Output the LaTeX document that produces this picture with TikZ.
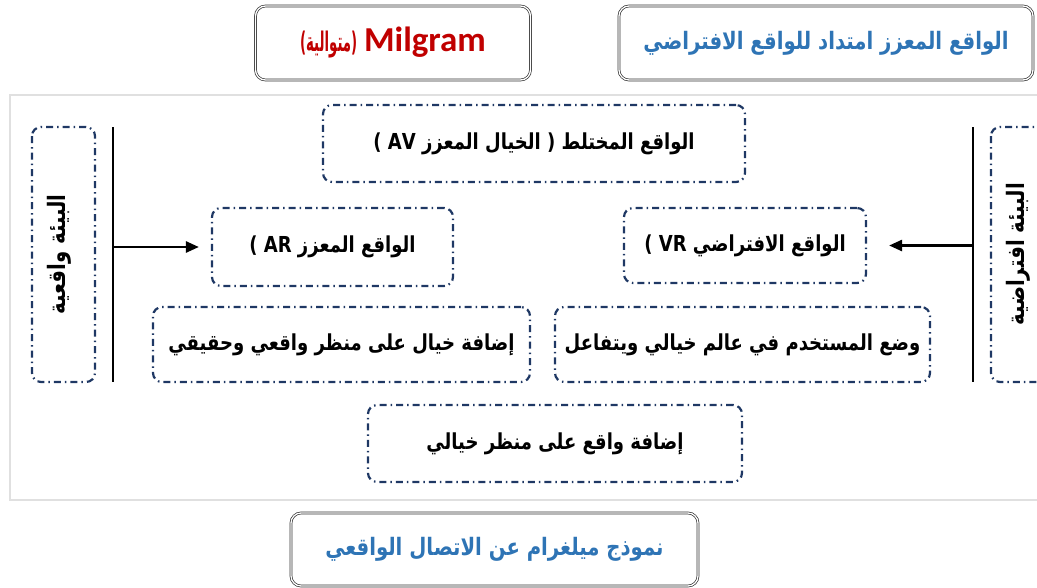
\documentclass[tikz,border=0pt]{standalone}
\usepackage{fontspec}
\setmainfont{Carlito}
\newfontfamily\arabicfont[Script=Arabic,FakeStretch=0.82]{DejaVu Sans}
\TeXXeTstate=1
\usetikzlibrary{arrows.meta}
\definecolor{navy}{HTML}{1F3864}
\definecolor{titleblue}{HTML}{2E74B5}
\definecolor{darkred}{HTML}{C00000}

\begin{document}
\begin{tikzpicture}[x=1pt,y=-1pt,
		dashbox/.style={draw=navy, line width=2.2pt, rounded corners=9pt, dash pattern=on 7pt off 4pt on 1.5pt off 4pt,
			font=\arabicfont\bfseries\fontsize{22}{26}\selectfont},
		sidebox/.style={dashbox, rotate=90, minimum width=255pt, minimum height=63pt, font=\arabicfont\bfseries\fontsize{24}{28}\selectfont},
		titlebox/.style={draw=black!80, double=white, double distance=1.3pt, line width=0.7pt, rounded corners=10pt,
			font=\arabicfont\bfseries\fontsize{24}{28}\selectfont, text=titleblue},
		arr/.style={-{Triangle[length=13pt,width=11pt]}, line width=2.6pt},
		bar/.style={line width=2.6pt}
			]
\useasboundingbox (0,0) rectangle (1037,587);
\clip (0,0) rectangle (1037,587);
\draw[black!12, line width=2pt] (10,95) rectangle (1060,500);

	\node[titlebox, minimum width=275pt, minimum height=74pt, text=darkred] (milgram) at (393,43)
		{{\arabicfont\fontsize{27}{30}\selectfont\scalebox{0.6}[1]{(متوالية)}} \setmainfont{Carlito}\bfseries\fontsize{35}{40}\selectfont Milgram};
	\node[titlebox, minimum width=414pt, minimum height=74pt] (extension) at (826,43)
		{\beginR الواقع المعزز امتداد للواقع الافتراضي\endR};

	\node[dashbox, minimum width=422pt, minimum height=77pt] (av) at (534,143.5)
		{\beginR الواقع المختلط ( الخيال المعزز AV )\endR};
	\node[dashbox, minimum width=241pt, minimum height=78pt] (ar) at (332.5,247)
		{\beginR الواقع المعزز AR )\endR};
	\node[dashbox, minimum width=242pt, minimum height=75pt] (vr) at (745,245.5)
		{\beginR الواقع الافتراضي VR )\endR};
	\node[dashbox, minimum width=377pt, minimum height=75pt] (addfantasy) at (341.5,344.5)
		{\beginR إضافة خيال على منظر واقعي وحقيقي\endR};
	\node[dashbox, minimum width=375pt, minimum height=75pt] (placeuser) at (742.5,344.5)
		{\beginR وضع المستخدم في عالم خيالي ويتفاعل\endR};
	\node[dashbox, minimum width=374pt, minimum height=77pt] (addreal) at (555,443.5)
		{\beginR إضافة واقع على منظر خيالي\endR};

	\node[sidebox] (realenv) at (63.5,254.5) {\raisebox{14pt}{\beginR البيئة واقعية\endR}};
	\node[sidebox] (virtenv) at (1022.5,254.5) {\raisebox{14pt}{\beginR البيئة افتراضية\endR}};

	\coordinate (ltop) at (113,127);
	\coordinate (lbot) at (113,382);
	\coordinate (rtop) at (973,127);
	\coordinate (rbot) at (973,382);
	\coordinate (lmid) at (ltop |- ar.west);
	\coordinate (rmid) at (rtop |- vr.east);
	\draw[bar] (ltop) -- (lbot);
	\draw[bar] (rtop) -- (rbot);
	\draw[arr, shorten >=12pt] (lmid) -- (ar.west);
	\draw[arr, shorten >=22pt] (rmid) -- (vr.east);

	\node[titlebox, minimum width=407pt, minimum height=73pt] (title) at (494.5,549.5)
		{\beginR نموذج ميلغرام عن الاتصال الواقعي\endR};
\end{tikzpicture}
\end{document}
